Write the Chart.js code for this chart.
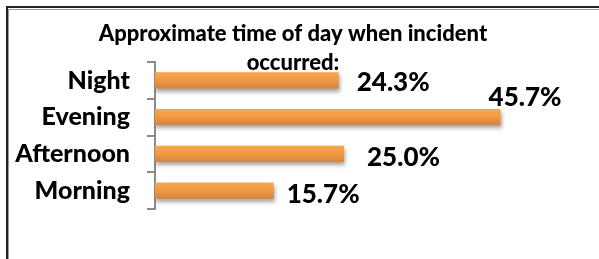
<!DOCTYPE html>
<html>
<head>
<meta charset="utf-8">
<script src="https://cdn.jsdelivr.net/npm/chart.js@4"></script>
<style>
  html, body { margin: 0; padding: 0; background: #fff; }
  #wrap { position: relative; width: 599px; height: 259px; }
</style>
</head>
<body>
<div id="wrap"><canvas id="myChart" width="599" height="259"></canvas></div>
<script>
// chart data
const categories = ['Night', 'Evening', 'Afternoon', 'Morning'];
const shares = [24.3, 45.7, 25.0, 15.7];
const valueLabels = ['24.3%', '45.7%', '25.0%', '15.7%'];
const titleLines = ['Approximate time of day when incident', 'occurred:'];

const FONT = 'Lato, "Open Sans", sans-serif';

// white page + the double frame line of the original screenshot
const framePlugin = {
  id: 'frame',
  beforeDraw(chart) {
    const ctx = chart.ctx;
    ctx.save();
    ctx.fillStyle = '#fff';
    ctx.fillRect(0, 0, chart.width, chart.height);
    ctx.fillStyle = '#222';
    ctx.fillRect(6, 6, 2, chart.height);
    ctx.fillRect(6, 6, chart.width, 2);
    ctx.fillStyle = '#9a9a9a';
    ctx.fillRect(8, 9, 1, chart.height);
    ctx.fillRect(8, 9, chart.width, 1);
    ctx.restore();
  }
};

// soft drop shadow under the bars
const shadowPlugin = {
  id: 'barShadow',
  beforeDatasetsDraw(chart) {
    const ctx = chart.ctx;
    ctx.save();
    ctx.shadowColor = 'rgba(0,0,0,0.35)';
    ctx.shadowBlur = 4;
    ctx.shadowOffsetX = 1;
    ctx.shadowOffsetY = 3;
  },
  afterDatasetsDraw(chart) {
    chart.ctx.restore();
  }
};

// value labels, nudged like the hand-placed ones in the source
const valueLabelPlugin = {
  id: 'valueLabels',
  afterDatasetsDraw(chart, args, opts) {
    const ctx = chart.ctx;
    const meta = chart.getDatasetMeta(0);
    ctx.save();
    ctx.font = '900 26px ' + FONT;
    ctx.fillStyle = '#000';
    ctx.textAlign = 'left';
    ctx.textBaseline = 'alphabetic';
    meta.data.forEach(function (bar, i) {
      const n = opts.nudge[i] || [10, 8];
      ctx.fillText(valueLabels[i], bar.x + n[0], bar.y + n[1]);
    });
    ctx.restore();
  }
};

function barGradient(context) {
  const chart = context.chart;
  const y = chart.scales.y;
  if (!y || !chart.chartArea) return '#f39a45';
  const c = y.getPixelForValue(context.dataIndex);
  const g = chart.ctx.createLinearGradient(0, c - 8, 0, c + 8);
  g.addColorStop(0, '#fba64c');
  g.addColorStop(0.5, '#f19843');
  g.addColorStop(1, '#d6843e');
  return g;
}

const ctx = document.getElementById('myChart').getContext('2d');
const myChart = new Chart(ctx, {
  type: 'bar',
  data: {
    labels: categories,
    datasets: [{
      label: 'Share of incidents',
      data: shares,
      backgroundColor: barGradient,
      borderWidth: 0,
      categoryPercentage: 1,
      barPercentage: 0.44
    }]
  },
  options: {
    indexAxis: 'y',
    responsive: false,
    animation: false,
    layout: { padding: { left: 0, right: 13, top: 0, bottom: 50 } },
    plugins: {
      legend: { display: false },
      tooltip: { enabled: false },
      title: {
        display: true,
        text: titleLines,
        color: '#000',
        font: { family: FONT, size: 22, weight: '900', lineHeight: 1.32 },
        padding: { top: 19, bottom: -15 }
      },
      valueLabels: {
        nudge: [[18, 10.5], [-12, -11], [23, 12], [13, 12]]
      }
    },
    scales: {
      x: {
        display: false,
        min: 0,
        max: 57
      },
      y: {
        afterFit(scale) { scale.width = 155; },
        border: { display: true, color: '#8a8a8a', width: 2 },
        grid: {
          display: true,
          drawOnChartArea: false,
          drawTicks: true,
          tickLength: 8,
          color: '#8a8a8a',
          lineWidth: 2
        },
        ticks: {
          color: '#000',
          padding: 17,
          font: { family: FONT, size: 25, weight: '900' }
        }
      }
    }
  },
  plugins: [framePlugin, shadowPlugin, valueLabelPlugin]
});
</script>
</body>
</html>
